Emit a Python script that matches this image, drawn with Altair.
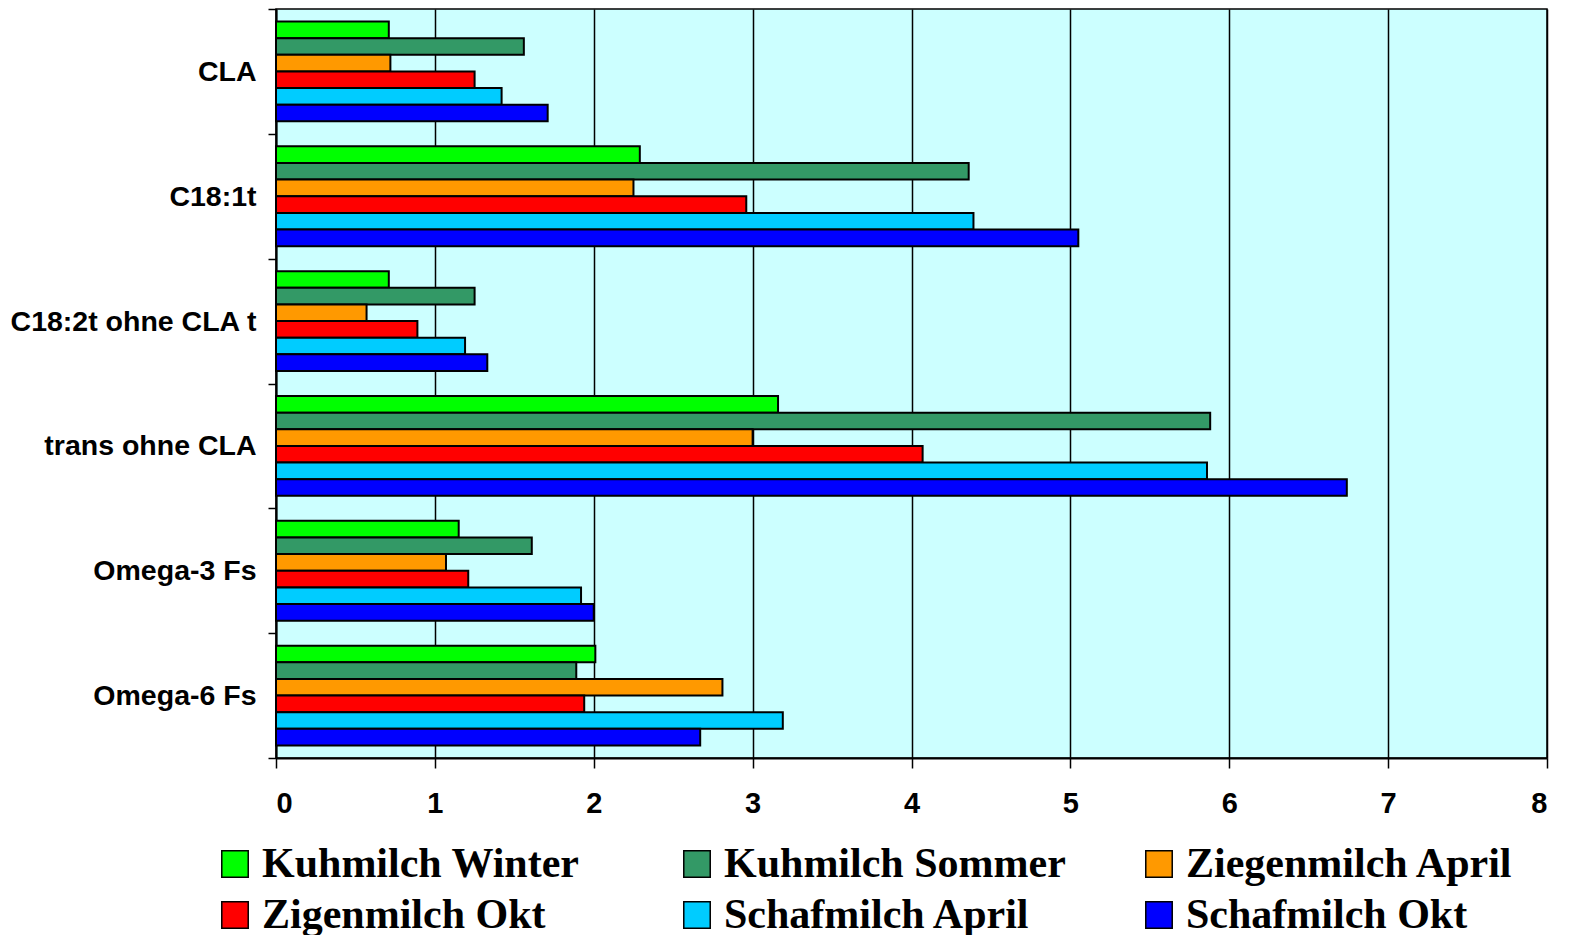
import altair as alt
import pandas as pd

categories = ["CLA", "C18:1t", "C18:2t ohne CLA t", "trans ohne CLA", "Omega-3 Fs", "Omega-6 Fs"]
series = ["Kuhmilch Winter", "Kuhmilch Sommer", "Ziegenmilch April",
          "Zigenmilch Okt", "Schafmilch April", "Schafmilch Okt"]
colors = ["#00FF00", "#339966", "#FF9900", "#FF0000", "#00CCFF", "#0000FF"]

kuh_winter = [0.71, 2.29, 0.71, 3.16, 1.15, 2.01]
kuh_sommer = [1.56, 4.36, 1.25, 5.88, 1.61, 1.89]
ziegen_april = [0.72, 2.25, 0.57, 3.00, 1.07, 2.81]
zigen_okt = [1.25, 2.96, 0.89, 4.07, 1.21, 1.94]
schaf_april = [1.42, 4.39, 1.19, 5.86, 1.92, 3.19]
schaf_okt = [1.71, 5.05, 1.33, 6.74, 2.00, 2.67]

x_ticks = [0, 1, 2, 3, 4, 5, 6, 7, 8]

all_values = [kuh_winter, kuh_sommer, ziegen_april, zigen_okt, schaf_april, schaf_okt]
rows = []
for s, vals in zip(series, all_values):
    for c, v in zip(categories, vals):
        rows.append({"cat": c, "series": s, "value": v})
df = pd.DataFrame(rows)

chart = alt.Chart(df).mark_bar(stroke="black", strokeWidth=2).encode(
    y=alt.Y("cat:N", sort=categories,
            scale=alt.Scale(paddingInner=0, paddingOuter=0),
            axis=alt.Axis(title=None, tickBand="extent", labelFont="Liberation Sans",
                          labelFontWeight="bold", labelFontSize=28.5, labelColor="black",
                          tickColor="black", tickSize=8, tickWidth=1.5,
                          domainColor="black", domainWidth=2, labelPadding=12,
                          grid=False, labelLimit=400)),
    yOffset=alt.YOffset("series:N", sort=series,
                        scale=alt.Scale(paddingInner=0, paddingOuter=0.75)),
    x=alt.X("value:Q", scale=alt.Scale(domain=[0, 8], nice=False),
            axis=alt.Axis(title=None, values=x_ticks, format="d",
                          labelFont="Liberation Sans", labelFontWeight="bold",
                          labelFontSize=29, labelColor="black",
                          tickColor="black", tickSize=10, tickWidth=1.5,
                          domainColor="black", domainWidth=2, labelPadding=21,
                          grid=True, gridColor="black", gridWidth=1.5, gridOpacity=1)),
    color=alt.Color("series:N", sort=series,
                    scale=alt.Scale(domain=series, range=colors),
                    legend=alt.Legend(title=None, orient="none", legendX=-62, legendY=834,
                                      direction="horizontal",
                                      columns=3, gridAlign="all", symbolType="square",
                                      symbolSize=700, symbolStrokeColor="black",
                                      symbolStrokeWidth=1.5, labelFont="Liberation Serif",
                                      labelFontWeight="bold", labelFontSize=42,
                                      labelColor="black", labelOffset=6,
                                      columnPadding=72, rowPadding=9, labelLimit=600)),
).properties(
    width=1271, height=749,
    autosize=alt.AutoSizeParams(type="none"),
    padding={"left": 268, "top": 1, "right": 12, "bottom": 180},
).configure_view(
    fill="#CCFFFF", stroke="black", strokeWidth=1.5
)

chart.save("out.html", embed_options={"renderer": "svg", "actions": False})
